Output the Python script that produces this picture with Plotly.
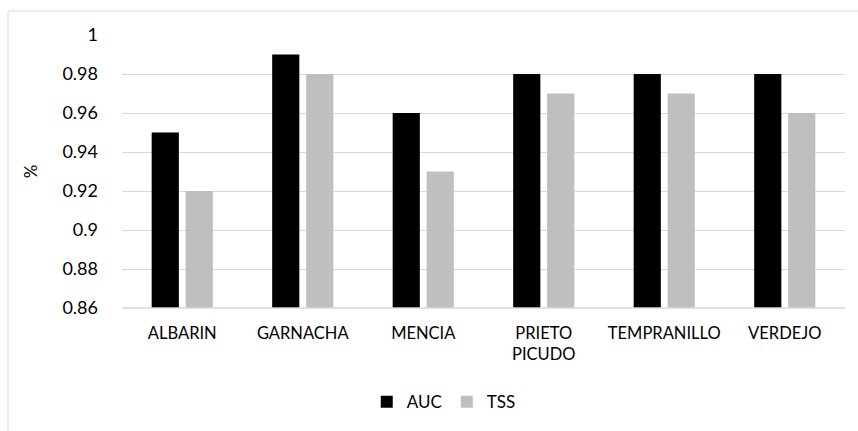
import plotly.graph_objects as go

categories = ["ALBARIN", "GARNACHA", "MENCIA", "PRIETO<br>PICUDO", "TEMPRANILLO", "VERDEJO"]
auc = [0.95, 0.99, 0.96, 0.98, 0.98, 0.98]
tss = [0.92, 0.98, 0.93, 0.97, 0.97, 0.96]
y_ticks = [0.86, 0.88, 0.90, 0.92, 0.94, 0.96, 0.98, 1.0]
y_tick_labels = ["0.86", "0.88", "0.9", "0.92", "0.94", "0.96", "0.98", "1"]

FONT = "Lato"
fig = go.Figure()
fig.add_trace(go.Bar(name="AUC", x=categories, y=auc, marker=dict(color="#000000", line=dict(width=0))))
fig.add_trace(go.Bar(name="TSS", x=categories, y=tss, marker=dict(color="#bfbfbf", line=dict(width=0))))

W, H = 858, 431
ml, mr, mt, mb = 122, 13, 35, 122
pw, ph = W - ml - mr, H - mt - mb

fig.update_layout(
    width=W, height=H,
    margin=dict(l=ml, r=mr, t=mt, b=mb, pad=0),
    paper_bgcolor="white", plot_bgcolor="white",
    font=dict(family=FONT, size=16, color="#000000"),
    barmode="group", bargap=0.436, bargroupgap=0.2,
    showlegend=True,
    legend=dict(orientation="h", x=0.445, xanchor="center", y=-0.34, yanchor="middle",
                font=dict(family=FONT, size=17), itemwidth=30, traceorder="normal"),
    xaxis=dict(showgrid=False, showline=False, zeroline=False, ticks="", tickfont=dict(size=16.5),
               ticklabelstandoff=13),
    yaxis=dict(range=[0.86, 1.0], tickvals=y_ticks, ticktext=y_tick_labels,
               showgrid=True, gridcolor="#d9d9d9", gridwidth=1, zeroline=False, showline=False,
               ticks="", ticklabelstandoff=23, tickfont=dict(size=18),
               title=dict(text="%", font=dict(size=17), standoff=20)),
    shapes=[
        dict(type="line", xref="paper", yref="paper", x0=0, x1=1, y0=0, y1=0,
             line=dict(color="#d9d9d9", width=1.5)),
        dict(type="rect", xref="paper", yref="paper",
             x0=(8 - ml) / pw, x1=(W + 20 - ml) / pw,
             y0=-(H - ph - mt + 20) / ph, y1=(H - mb - 11) / ph,
             line=dict(color="#d9d9d9", width=1), fillcolor="rgba(0,0,0,0)", layer="below"),
    ],
)
fig.write_html("out.html")
